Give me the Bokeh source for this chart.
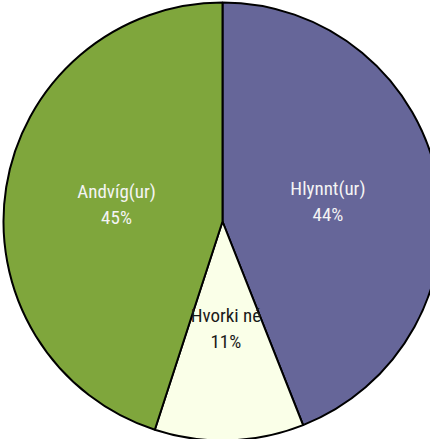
import math
from bokeh.plotting import figure
from bokeh.models import Range1d, ColumnDataSource
from bokeh.core.properties import value
from bokeh.embed import file_html
from bokeh.resources import INLINE

categories = ["Hlynnt(ur)", "Hvorki né", "Andvíg(ur)"]
shares = [44, 11, 45]
colors = ["#666699", "#FAFFE8", "#7FA63C"]
text_colors = ["#F4F4F4", "#1A1A1A", "#F4F4F4"]

W, H = 430, 439
cx, cy, r = 222, H - 221, 219

total = sum(shares)
starts, ends, lx, ly, pcts = [], [], [], [], []
cum = 0.0
for s in shares:
    a0 = math.pi / 2 - 2 * math.pi * cum / total
    cum += s
    a1 = math.pi / 2 - 2 * math.pi * cum / total
    starts.append(a0)
    ends.append(a1)
    mid = (a0 + a1) / 2
    lx.append(cx + 0.49 * r * math.cos(mid))
    ly.append(cy + 0.49 * r * math.sin(mid))
    pcts.append(f"{s}%")

src = ColumnDataSource(dict(start=starts, end=ends, color=colors, x=lx, y=ly,
                            name=categories, pct=pcts, tc=text_colors))

p = figure(width=W, height=H, output_backend="svg", toolbar_location=None,
           x_range=Range1d(0, W), y_range=Range1d(0, H), min_border=0)
p.axis.visible = False
p.grid.visible = False
p.outline_line_color = None
p.background_fill_color = "white"

p.wedge(x=cx, y=cy, radius=r, start_angle="start", end_angle="end", direction="clock",
        fill_color="color", line_color="black", line_width=2, source=src)

FONT = value("'Liberation Sans Narrow', 'Roboto Condensed', 'DejaVu Sans Condensed', sans-serif")
p.text(x="x", y="y", text="name", text_color="tc", source=src,
       text_font=FONT, text_font_size="19px",
       text_align="center", text_baseline="middle", y_offset=-13)
p.text(x="x", y="y", text="pct", text_color="tc", source=src,
       text_font=FONT, text_font_size="19px",
       text_align="center", text_baseline="middle", y_offset=13)

open("out.html", "w").write(file_html(p, INLINE))
